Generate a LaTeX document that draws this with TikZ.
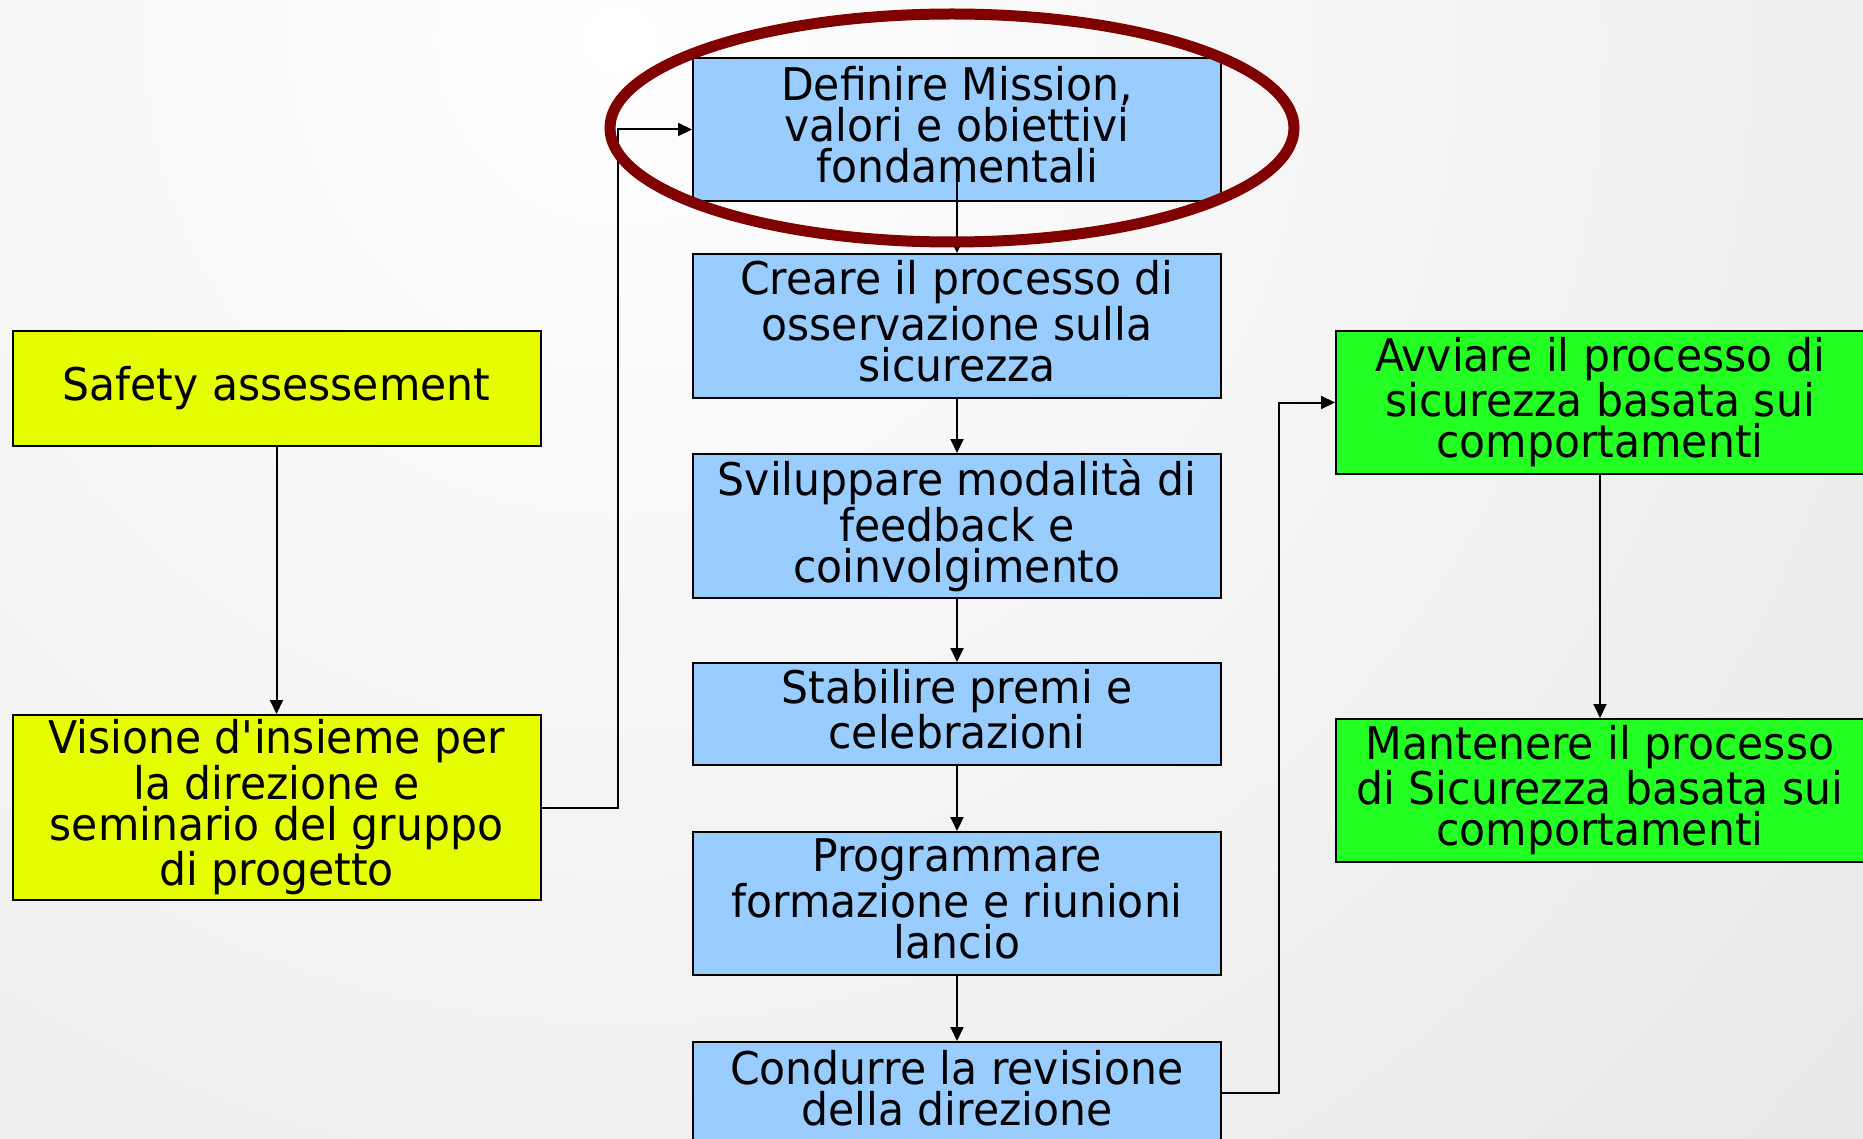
\documentclass[tikz,border=0pt]{standalone}
\usepackage{fontspec}
\setmainfont[FakeStretch=0.945]{DejaVu Sans}
\usetikzlibrary{arrows.meta}

\definecolor{stepblue}{RGB}{153,204,255}
\definecolor{startyellow}{RGB}{230,255,0}
\definecolor{rungreen}{RGB}{36,255,36}
\definecolor{ringred}{RGB}{128,0,0}
\definecolor{bggray}{RGB}{218,218,218}

\tikzset{
  box/.style={draw=black, line width=1pt, minimum width=264pt, inner sep=0pt,
    align=center, text depth=5pt, font=\fontsize{22.5pt}{20.5pt}\selectfont},
  bluebox/.style={box, fill=stepblue},
  yellowbox/.style={box, fill=startyellow},
  greenbox/.style={box, fill=rungreen},
  link/.style={draw=black, line width=1pt, -{Triangle[length=7pt,width=6.5pt]}},
  ring/.style={draw=ringred, line width=5.5pt}
}

\begin{document}
\begin{tikzpicture}[x=0.5pt, y=-0.5pt]
  % page frame and soft radial background
  \useasboundingbox (0,0) rectangle (1863,1139);
  \begin{scope}
    \clip (0,0) rectangle (1863,1139);
    \shade[inner color=white, outer color=bggray] (620,40) circle (2700);
  \end{scope}

  % central sequence of steps
  \node[bluebox, minimum height=71.5pt] (def) at (957,129.5)
    {Definire Mission,\\valori e obiettivi\\fondamentali};
  \node[bluebox, minimum height=72pt] (cre) at (957,326)
    {Creare il processo di\\osservazione sulla\\sicurezza};
  \node[bluebox, minimum height=72pt] (svi) at (957,526)
    {Sviluppare modalità di\\feedback e\\coinvolgimento};
  \node[bluebox, minimum height=51pt] (sta) at (957,714)
    {Stabilire premi e\\celebrazioni};
  \node[bluebox, minimum height=71.5pt] (pro) at (957,903.5)
    {Programmare\\formazione e riunioni\\lancio};
  \node[bluebox, minimum height=51pt] (con) at (957,1093)
    {Condurre la revisione\\della direzione};

  % preparatory steps on the left
  \node[yellowbox, minimum height=57.5pt] (saf) at (276.5,388.5)
    {Safety assessement};
  \node[yellowbox, minimum height=92.5pt] (vis) at (276.5,807.5)
    {Visione d\textquotesingle insieme per\\la direzione e\\seminario del gruppo\\di progetto};

  % running the process on the right
  \node[greenbox, minimum height=71.5pt] (avv) at (1600,402.5)
    {Avviare il processo di\\sicurezza basata sui\\comportamenti};
  \node[greenbox, minimum height=71.5pt] (man) at (1600,790.5)
    {Mantenere il processo\\di Sicurezza basata sui\\comportamenti};

  % connectors
  \draw[link] ([yshift=11pt]def.south) -- (cre.north);
  \draw[link] (cre) -- (svi);
  \draw[link] (svi) -- (sta);
  \draw[link] (sta) -- (pro);
  \draw[link] (pro) -- (con);
  \draw[link] (saf) -- (vis);
  \draw[link] (avv) -- (man);
  \draw[link] (vis.east) -- ++(76,0) |- (def.west);
  \draw[link] (con.east) -- ++(57,0) |- (avv.west);

  % highlight ring around the first step
  \draw[ring] (952,128) ellipse [x radius=342, y radius=114];
\end{tikzpicture}
\end{document}
